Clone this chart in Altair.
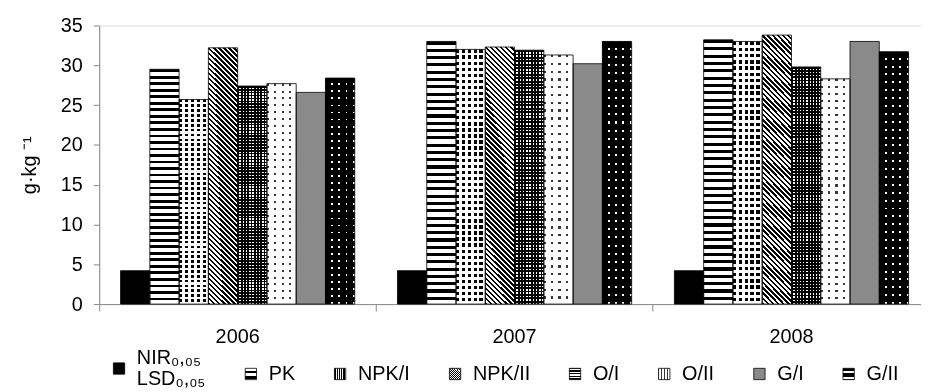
import altair as alt
import pandas as pd

# ---- data ----
years = ["2006", "2007", "2008"]
series = ["NIR", "PK", "NPK/I", "NPK/II", "O/I", "O/II", "G/I", "G/II"]
v2006 = [4.2, 29.5, 25.7, 32.2, 27.4, 27.7, 26.6, 28.4]
v2007 = [4.2, 33.0, 32.0, 32.3, 31.9, 31.3, 30.2, 33.0]
v2008 = [4.2, 33.2, 33.0, 33.8, 29.8, 28.3, 33.0, 31.7]
y_ticks = [0, 5, 10, 15, 20, 25, 30, 35]

rows = []
for yr, vals in zip(years, [v2006, v2007, v2008]):
    for s, v in zip(series, vals):
        rows.append({"year": yr, "series": s, "value": v})
df = pd.DataFrame(rows)

FONT = "Liberation Sans"
FS = 20


# ---- pattern helpers (striped linear gradients) ----
def stops(n, frac, on, off):
    out = []
    for i in range(n):
        a = i / n
        b = (i + frac) / n
        c = (i + 1) / n
        out += [(a, on), (b, on), (b, off), (c, off)]
    return out


def grad_expr(n, frac, on, off, x1, y1, x2, y2):
    st = ",".join("{offset:%.5f,color:'%s'}" % (o, c) for o, c in stops(n, frac, on, off))
    return alt.ExprRef(
        expr="{gradient:'linear',x1:%.5f,y1:%.5f,x2:%.5f,y2:%.5f,stops:[%s]}" % (x1, y1, x2, y2, st)
    )


def grad_val(n, frac, on, off, x1, y1, x2, y2):
    return alt.LinearGradient(
        gradient="linear", x1=x1, y1=y1, x2=x2, y2=y2,
        stops=[alt.GradientStop(offset=round(o, 5), color=c) for o, c in stops(n, frac, on, off)],
    )


HORIZ = (0, 0, 0, 1)   # horizontal stripes
VERT = (0, 0, 1, 0)    # vertical stripes
w_b, h_b = 29.5, 262.0
k = (w_b + h_b) / (w_b ** 2 + h_b ** 2)
DIAG = (0, 1, w_b * k, 1 - h_b * k)  # "\" diagonal stripes

fill_range = [
    "black",                                         # NIR
    grad_expr(36, 0.43, "black", "white", *HORIZ),   # PK
    grad_expr(5, 0.55, "black", "white", *VERT),     # NPK/I (base)
    grad_expr(57, 0.5, "black", "white", *DIAG),     # NPK/II
    grad_expr(75, 0.55, "black", "white", *HORIZ),   # O/I (base)
    grad_expr(4, 0.3, "#3a3a3a", "white", *VERT),    # O/II (base)
    "#8a8a8a",                                       # G/I
    grad_expr(32, 0.75, "black", "white", *HORIZ),   # G/II (base)
]

x_enc = alt.X(
    "year:N", sort=years,
    scale=alt.Scale(range=[0, 838], paddingInner=0, paddingOuter=0),
    axis=alt.Axis(title=None, bandPosition=0, tickSize=7, labelPadding=16,
                  labelAngle=0, labelFontSize=FS),
)
xoff = alt.XOffset("series:N", sort=series,
                   scale=alt.Scale(paddingInner=0, paddingOuter=0.73))
y_enc = alt.Y(
    "value:Q",
    scale=alt.Scale(domain=[0, 35], nice=False),
    axis=alt.Axis(values=y_ticks, title="g·kg ⁻¹", tickSize=6, labelPadding=11,
                  labelFontSize=FS, titleFontSize=FS, titleFontWeight="normal",
                  titlePadding=21, grid=False),
)

legend = alt.Legend(
    title=None, orient="none", legendX=10, legendY=336, direction="horizontal",
    columns=8, gridAlign="each", columnPadding=35, padding=0,
    symbolType="square", symbolSize=130, symbolStrokeColor="black",
    symbolStrokeWidth=0.8, labelFontSize=FS, labelFont=FONT, labelColor="black",
    labelOffset=8,
    labelBaseline=alt.ExprRef(expr="datum.value == 'NIR' ? 'line-bottom' : 'middle'"),
    labelExpr="datum.label == 'NIR' ? ['NIR₀,₀₅', 'LSD₀,₀₅'] : datum.label",
)

base = alt.Chart(df).mark_bar(strokeWidth=0).encode(
    x=x_enc, xOffset=xoff, y=y_enc,
    fill=alt.Fill("series:N", sort=series,
                  scale=alt.Scale(domain=series, range=fill_range), legend=legend),
)


def overlay(name, grad, blend):
    return (
        alt.Chart(df)
        .transform_filter(alt.datum.series == name)
        .mark_bar(fill=grad, blend=blend, strokeWidth=0)
        .encode(x=x_enc, xOffset=xoff, y=y_enc)
    )


ov_npk1 = overlay("NPK/I", grad_val(42, 0.55, "black", "white", *HORIZ), "lighten")
ov_o1 = overlay("O/I", grad_val(9, 0.55, "black", "white", *VERT), "darken")
ov_o2 = overlay("O/II", grad_val(32, 0.3, "#3a3a3a", "white", *HORIZ), "lighten")
ov_g2 = overlay("G/II", grad_val(4, 0.75, "black", "white", *VERT), "darken")

outline = alt.Chart(df).mark_bar(fill="transparent", stroke="black", strokeWidth=0.8).encode(
    x=x_enc, xOffset=xoff, y=y_enc
)

chart = (
    alt.layer(base, ov_npk1, ov_o1, ov_o2, ov_g2, outline)
    .properties(
        width=829, height=281,
        autosize=alt.AutoSizeParams(type="none"),
        padding={"left": 92, "top": 16, "right": 0, "bottom": 87},
    )
    .configure_view(stroke=None)
    .configure_axis(domainColor="black", tickColor="black", labelColor="black",
                    titleColor="black", labelFont=FONT, titleFont=FONT)
    .configure(background="white")
)

chart.save("out.html", embed_options={"renderer": "svg", "actions": False})
